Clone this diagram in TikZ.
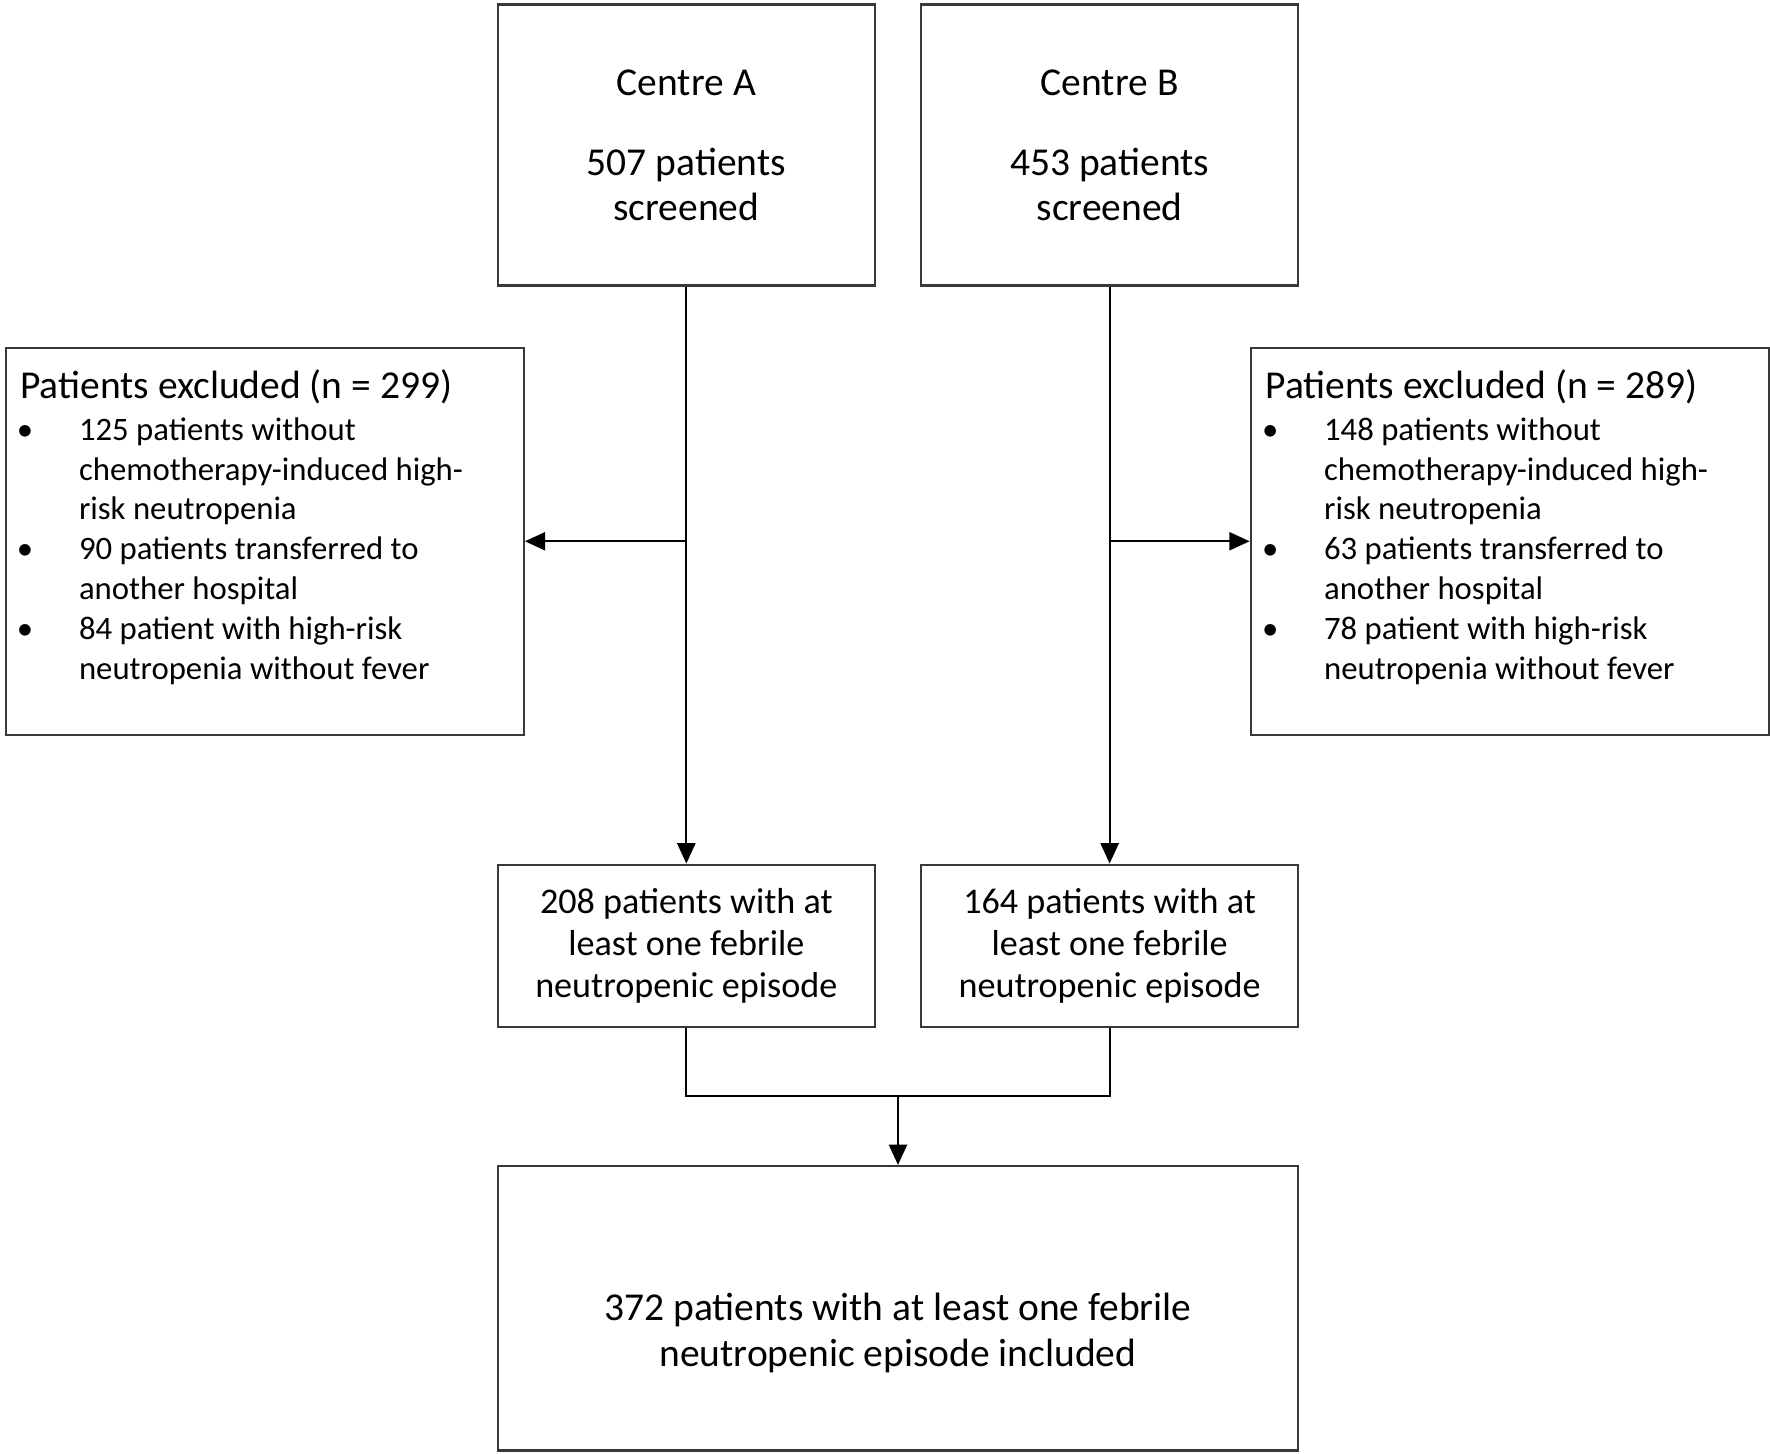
\documentclass[tikz,border=0pt]{standalone}
\usepackage{fontspec}
\setmainfont{Carlito}
\usetikzlibrary{arrows.meta}
\newcommand{\exclbox}[1]{\parbox[t][343pt][t]{459pt}{\raggedright\leftskip=65pt\fontsize{29}{35.3}\selectfont #1\par}}
\newcommand{\extitle}[1]{\hspace*{-52pt}{\fontsize{35}{40}\selectfont\rule{0pt}{45pt}#1}\par\vspace{1.7pt}}
\newcommand{\exitem}{\hspace*{-55pt}\makebox[55pt][l]{\textbullet}}
\begin{document}
\begin{tikzpicture}[x=1pt,y=-1pt,
  box/.style={draw=black!78, line width=2pt, inner sep=0pt, align=center},
  conn/.style={line width=2pt, draw=black},
  arr/.style={conn, -{Triangle[length=18pt,width=16pt]}},
  big/.style={font=\fontsize{35}{40}\selectfont},
  mid/.style={font=\fontsize{32}{37.5}\selectfont}]
\useasboundingbox (0,0) rectangle (1568,1288);
% screening boxes
\node[box, big, minimum width=334pt, minimum height=249pt] (cA) at (608,128.5) {Centre A\\[31pt]507 patients\\screened};
\node[box, big, minimum width=334pt, minimum height=249pt] (cB) at (983,128.5) {Centre B\\[31pt]453 patients\\screened};
% exclusion boxes
\node[box, anchor=north west] (exA) at (4,307) {\exclbox{%
\extitle{Patients excluded (n = 299)}
\exitem 125 patients without\\chemotherapy-induced high-\\risk neutropenia\par
\exitem 90 patients transferred to\\another hospital\par
\exitem 84 patient with high-risk\\neutropenia without fever}};
\node[box, anchor=north west] (exB) at (1107,307) {\exclbox{%
\extitle{Patients excluded (n = 289)}
\exitem 148 patients without\\chemotherapy-induced high-\\risk neutropenia\par
\exitem 63 patients transferred to\\another hospital\par
\exitem 78 patient with high-risk\\neutropenia without fever}};
% febrile boxes
\node[box, mid, minimum width=334pt, minimum height=144pt] (mA) at (608,838) {208 patients with at\\least one febrile\\neutropenic episode};
\node[box, mid, minimum width=334pt, minimum height=144pt] (mB) at (983,838) {164 patients with at\\least one febrile\\neutropenic episode};
% included box
\node[box, big, minimum width=709pt, minimum height=252pt] (bot) at (795.5,1159) {\strut\\372 patients with at least one febrile\\neutropenic episode included};
% connectors
\draw[arr] (cA.south) -- (mA.north);
\draw[arr] (cB.south) -- (mB.north);
\draw[arr] (cA.south |- exA.east) -- (exA.east);
\draw[arr] (cB.south |- exB.west) -- (exB.west);
\coordinate (mj) at (795.5,971);
\draw[conn] (mA.south) |- (mj) -| (mB.south);
\draw[arr] (mj) -- (bot.north);
\end{tikzpicture}
\end{document}
